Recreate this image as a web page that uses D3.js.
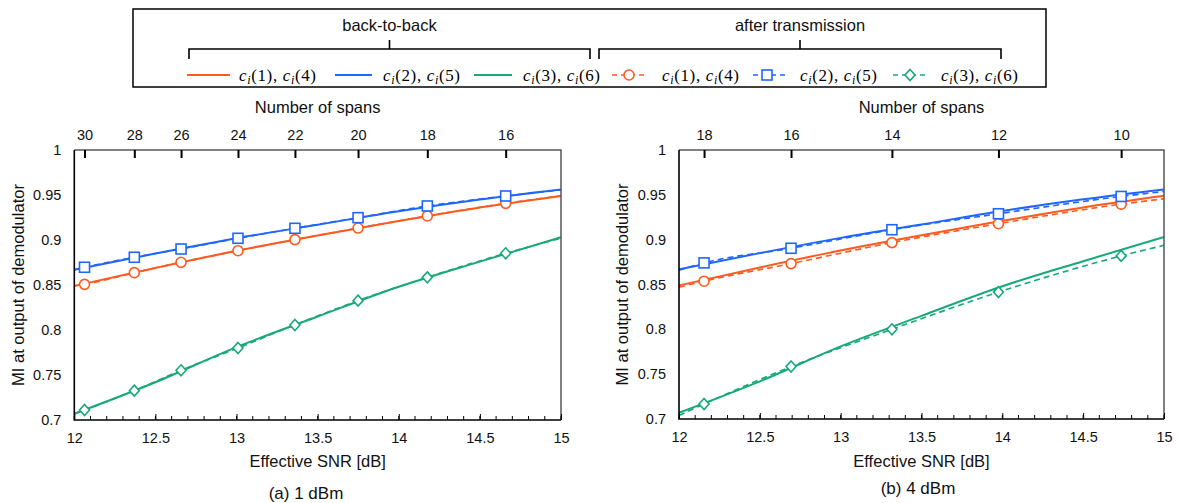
<!DOCTYPE html>
<html lang="en">
<head>
<meta charset="UTF-8">
<title>MI vs effective SNR</title>
<script src="https://d3js.org/d3.v7.min.js"></script>
<style>
  body { margin: 0; background: #fff; }
  svg { display: block; font-family: "Liberation Sans", Arial, sans-serif; }
  .math { font-family: "Liberation Serif", "DejaVu Serif", serif; }
</style>
</head>
<body>
<div id="chart"></div>
<script>
// back-to-back curves (same in both panels), read at 0.5 dB steps
const b2bSnr = [12, 12.5, 13, 13.5, 14, 14.5, 15];
const b2bOrange = [0.849, 0.869, 0.888, 0.905, 0.921, 0.936, 0.949];
const b2bBlue   = [0.867, 0.885, 0.902, 0.917, 0.932, 0.945, 0.956];
const b2bGreen  = [0.707, 0.742, 0.781, 0.815, 0.848, 0.876, 0.903];

// (a) 1 dBm: after transmission, one point per span count
const spansA = [30, 28, 26, 24, 22, 20, 18, 16];
const snrA = [12.063, 12.370, 12.658, 13.009, 13.360, 13.749, 14.176, 14.659];
const txOrangeA = [0.8507, 0.8637, 0.8752, 0.8881, 0.9004, 0.9133, 0.9267, 0.9407];
const txBlueA   = [0.8697, 0.8808, 0.8900, 0.9019, 0.9130, 0.9248, 0.9378, 0.9489];
const txGreenA  = [0.7111, 0.7326, 0.7552, 0.7800, 0.8056, 0.8326, 0.8585, 0.8852];
// dashed line ends at 12 and 15 dB
const endsOrangeA = [0.849, 0.949];
const endsBlueA   = [0.867, 0.9556];
const endsGreenA  = [0.707, 0.902];

// (b) 4 dBm
const spansB = [18, 16, 14, 12, 10];
const snrB = [12.155, 12.693, 13.317, 13.976, 14.735];
const txOrangeB = [0.8537, 0.8733, 0.8967, 0.9178, 0.9396];
const txBlueB   = [0.8741, 0.8904, 0.9111, 0.9289, 0.9482];
const txGreenB  = [0.7167, 0.7585, 0.8000, 0.8415, 0.8819];
const endsOrangeB = [0.847, 0.9456];
const endsBlueB   = [0.866, 0.9537];
const endsGreenB  = [0.704, 0.8937];

const xTicks = [12, 12.5, 13, 13.5, 14, 14.5, 15];
const yTicks = [0.7, 0.75, 0.8, 0.85, 0.9, 0.95, 1];
const legendLabels = ["(1)", "(4)", "(2)", "(5)", "(3)", "(6)"];

const colors = { orange: "#ff5a1f", blue: "#1f66ff", green: "#17a97a" };

const W = 1179, H = 503;
const svg = d3.select("#chart").append("svg").attr("width", W).attr("height", H);
svg.append("rect").attr("width", W).attr("height", H).attr("fill", "#fff");

// ---------- legend ----------
const leg = svg.append("g");
leg.append("rect").attr("x", 133).attr("y", 9).attr("width", 913).attr("height", 78)
  .attr("fill", "none").attr("stroke", "#000").attr("stroke-width", 1.5);

function brace(x0, x1, label) {
  const xm = (x0 + x1) / 2;
  leg.append("path")
    .attr("d", `M${x0},59V49H${x1}V59M${xm},49V40`)
    .attr("fill", "none").attr("stroke", "#000").attr("stroke-width", 1.6);
  leg.append("text").attr("x", xm).attr("y", 31).attr("text-anchor", "middle")
    .attr("font-size", 16.5).attr("fill", "#111").text(label);
}
brace(189, 590, "back-to-back");
brace(599, 1001, "after transmission");

function mathLabel(x, a, b) {
  const t = leg.append("text").attr("class", "math").attr("x", x).attr("y", 81)
    .attr("font-size", 17).attr("textLength", 77).attr("lengthAdjust", "spacing");
  t.append("tspan").attr("font-style", "italic").text("c");
  t.append("tspan").attr("font-style", "italic").attr("font-size", 12).attr("dy", 3).text("i");
  t.append("tspan").attr("dy", -3).text(a + ", ");
  t.append("tspan").attr("font-style", "italic").text("c");
  t.append("tspan").attr("font-style", "italic").attr("font-size", 12).attr("dy", 3).text("i");
  t.append("tspan").attr("dy", -3).text(b);
}

function marker(g, type, x, y, color) {
  if (type === "circle") {
    g.append("circle").attr("cx", x).attr("cy", y).attr("r", 5)
      .attr("fill", "#fff").attr("stroke", color).attr("stroke-width", 1.6);
  } else if (type === "square") {
    g.append("rect").attr("x", x - 5).attr("y", y - 5).attr("width", 10).attr("height", 10)
      .attr("fill", "#fff").attr("stroke", color).attr("stroke-width", 1.6);
  } else {
    g.append("path").attr("d", `M${x},${y - 5.5}L${x + 5},${y}L${x},${y + 5.5}L${x - 5},${y}Z`)
      .attr("fill", "#fff").attr("stroke", color).attr("stroke-width", 1.6);
  }
}

const legY = 75;
const solidItems = [[187, 230, colors.orange, 239], [335, 372, colors.blue, 383], [474, 512, colors.green, 523]];
solidItems.forEach((d, i) => {
  leg.append("line").attr("x1", d[0]).attr("x2", d[1]).attr("y1", legY).attr("y2", legY)
    .attr("stroke", d[2]).attr("stroke-width", 2);
  mathLabel(d[3], legendLabels[i * 2], legendLabels[i * 2 + 1]);
});
const dashItems = [[612, 648, 629, colors.orange, "circle", 662], [753, 789, 767, colors.blue, "square", 800], [893, 928, 910, colors.green, "diamond", 941]];
dashItems.forEach((d, i) => {
  leg.append("line").attr("x1", d[0]).attr("x2", d[1]).attr("y1", legY).attr("y2", legY)
    .attr("stroke", d[3]).attr("stroke-width", 1.6).attr("stroke-dasharray", "5,4");
  marker(leg, d[4], d[2], legY, d[3]);
  mathLabel(d[5], legendLabels[i * 2], legendLabels[i * 2 + 1]);
});

// ---------- panels ----------
function drawPanel(p) {
  const x = d3.scaleLinear().domain([12, 15]).range([p.left, p.right]);
  const y = d3.scaleLinear().domain([0.7, 1]).range([p.bottom, p.top]);
  const g = svg.append("g");
  const line = d3.line().x(d => x(d[0])).y(d => y(d[1])).curve(d3.curveMonotoneX);

  // back-to-back solid
  [[b2bOrange, colors.orange], [b2bBlue, colors.blue], [b2bGreen, colors.green]].forEach(([v, c]) => {
    g.append("path").datum(b2bSnr.map((s, i) => [s, v[i]]))
      .attr("d", line).attr("fill", "none").attr("stroke", c).attr("stroke-width", 2);
  });

  // after transmission dashed + markers
  p.series.forEach(s => {
    const pts = [[12, s.ends[0]]].concat(p.snr.map((v, i) => [v, s.vals[i]]), [[15, s.ends[1]]]);
    g.append("path").datum(pts).attr("d", line).attr("fill", "none")
      .attr("stroke", s.color).attr("stroke-width", 1.6).attr("stroke-dasharray", "6,4");
  });
  p.series.forEach(s => {
    p.snr.forEach((v, i) => marker(g, s.marker, x(v), y(s.vals[i]), s.color));
  });

  // frame: top/right grey, left/bottom black
  g.append("path").attr("d", `M${p.left},${p.top}H${p.right}V${p.bottom}`)
    .attr("fill", "none").attr("stroke", "#555").attr("stroke-width", 1.5);
  g.append("path").attr("d", `M${p.left},${p.top}V${p.bottom}H${p.right}`)
    .attr("fill", "none").attr("stroke", "#000").attr("stroke-width", 1.6);

  // bottom axis: minor ticks every 0.1
  const minor = d3.range(0, 31).map(i => 12 + i * 0.1);
  g.selectAll(".mt").data(minor).join("line")
    .attr("x1", d => x(d)).attr("x2", d => x(d))
    .attr("y1", p.bottom).attr("y2", p.bottom - 4)
    .attr("stroke", "#000").attr("stroke-width", 1);
  const xb = g.append("g").attr("transform", `translate(0,${p.bottom})`)
    .call(d3.axisBottom(x).tickValues(xTicks).tickSize(-6).tickPadding(13).tickFormat(d => String(d)));
  xb.select(".domain").remove();
  xb.selectAll("line").attr("stroke-width", 1);
  xb.selectAll("text").attr("font-size", 14.5).attr("font-family", "Liberation Sans, Arial, sans-serif").attr("fill", "#111");

  // top axis: number of spans
  const xt = g.append("g").attr("transform", `translate(0,${p.top})`)
    .call(d3.axisTop(x).tickValues(p.snr).tickSize(-8).tickPadding(10)
      .tickFormat((d, i) => String(p.spans[i])));
  xt.select(".domain").remove();
  xt.selectAll("line").attr("stroke-width", 2);
  xt.selectAll("text").attr("font-size", 14.5).attr("font-family", "Liberation Sans, Arial, sans-serif").attr("fill", "#111");

  // y axis labels only
  const ya = g.append("g").attr("transform", `translate(${p.left},0)`)
    .call(d3.axisLeft(y).tickValues(yTicks).tickSize(0).tickPadding(13).tickFormat(d => String(d)));
  ya.select(".domain").remove();
  ya.selectAll("text").attr("font-size", 14.5).attr("font-family", "Liberation Sans, Arial, sans-serif").attr("fill", "#111");

  const cx = (p.left + p.right) / 2;
  g.append("text").attr("x", cx).attr("y", 113).attr("text-anchor", "middle")
    .attr("font-size", 16.5).attr("fill", "#111").text("Number of spans");
  g.append("text").attr("x", cx).attr("y", 467).attr("text-anchor", "middle")
    .attr("font-size", 16.5).attr("fill", "#111").text("Effective SNR [dB]");
  g.append("text").attr("x", p.captionX).attr("y", p.captionY).attr("text-anchor", "middle")
    .attr("font-size", 17).attr("fill", "#111").text(p.caption);
  g.append("text").attr("transform", `translate(${p.ytitleX},${(p.top + p.bottom) / 2}) rotate(-90)`)
    .attr("text-anchor", "middle").attr("font-size", 16.5).attr("fill", "#111")
    .text("MI at output of demodulator");
}

drawPanel({
  left: 74.3, right: 561, top: 150, bottom: 420,
  spans: spansA, snr: snrA,
  series: [
    { vals: txOrangeA, ends: endsOrangeA, color: colors.orange, marker: "circle" },
    { vals: txBlueA, ends: endsBlueA, color: colors.blue, marker: "square" },
    { vals: txGreenA, ends: endsGreenA, color: colors.green, marker: "diamond" }
  ],
  caption: "(a) 1 dBm", captionX: 306, captionY: 499, ytitleX: 24
});
drawPanel({
  left: 679, right: 1164, top: 150, bottom: 419,
  spans: spansB, snr: snrB,
  series: [
    { vals: txOrangeB, ends: endsOrangeB, color: colors.orange, marker: "circle" },
    { vals: txBlueB, ends: endsBlueB, color: colors.blue, marker: "square" },
    { vals: txGreenB, ends: endsGreenB, color: colors.green, marker: "diamond" }
  ],
  caption: "(b) 4 dBm", captionX: 918, captionY: 494, ytitleX: 628
});
</script>
</body>
</html>
